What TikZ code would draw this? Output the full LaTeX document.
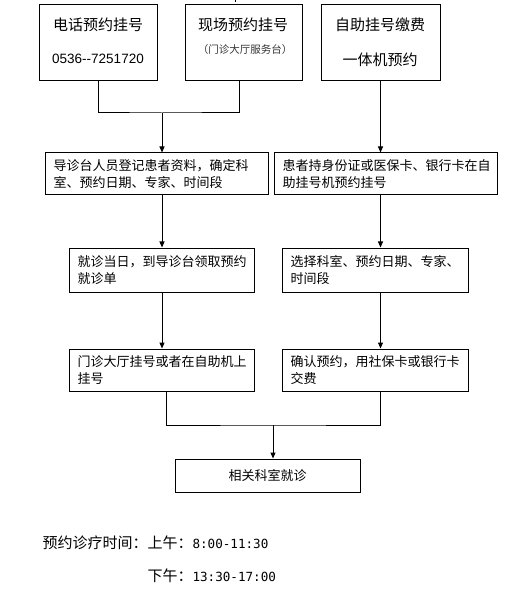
\documentclass[tikz,border=0pt]{standalone}
\usepackage{fontspec}
\setmainfont{Noto Sans CJK SC}
\newfontfamily\lat{Liberation Sans}
\newfontfamily\mono{DejaVu Sans Mono}
\usetikzlibrary{arrows.meta}
\begin{document}
\begin{tikzpicture}[x=1pt,y=-1pt,line width=1pt,
  topbox/.style={draw,inner sep=0pt,minimum height=76pt},
  tbox/.style={draw,inner xsep=8.5pt,inner ysep=0pt,align=left,font=\fontsize{13}{17}\selectfont},
  title/.style={inner sep=0pt,font=\fontsize{15}{18}\selectfont},
  arr/.style={-{Triangle[length=6pt,width=5pt]}}]
\useasboundingbox (0,0) rectangle (520,609);
% remnant tick at the top edge
\coordinate (k1) at (235,0);
\coordinate (k2) at (235,2.5);
\draw (k1) -- (k2);
% top boxes
\node[topbox,minimum width=118pt] (b1) at (98,43) {};
\node[topbox,minimum width=117pt] (b2) at (243.5,43) {};
\node[topbox,minimum width=119pt] (b3) at (380.5,43) {};
\node[title] (t1a) at (98,25) {电话预约挂号};
\node[inner sep=0pt,font=\lat\fontsize{13.5}{16}\selectfont] (t1b) at (98,59) {0536--7251720};
\node[title] (t2a) at (243,25) {现场预约挂号};
\node[inner sep=0pt,font=\fontsize{10.5}{12}\selectfont,text=black!80] (t2b) at (245,50) {（门诊大厅服务台）};
\node[title] (t3a) at (380,25) {自助挂号缴费};
\node[title] (t3b) at (380,60) {一体机预约};
% second row
\node[tbox,text width=206pt,minimum height=42pt] (b4) at (156.5,174) {导诊台人员登记患者资料，确定科\\室、预约日期、专家、时间段};
\node[tbox,text width=206pt,minimum height=42pt] (b5) at (385.5,174) {患者持身份证或医保卡、银行卡在自\\助挂号机预约挂号};
% third row
\node[tbox,text width=168pt,minimum height=44pt] (b6) at (161.5,270) {就诊当日，到导诊台领取预约\\就诊单};
\node[tbox,text width=169pt,minimum height=44pt] (b7) at (375,270) {选择科室、预约日期、专家、\\时间段};
% fourth row
\node[tbox,text width=168pt,minimum height=42pt] (b8) at (161.5,370) {门诊大厅挂号或者在自助机上\\挂号};
\node[tbox,text width=169pt,minimum height=42pt] (b9) at (375,370) {确认预约，用社保卡或银行卡\\交费};
% final
\node[draw,inner sep=0pt,minimum width=185pt,minimum height=33pt,font=\fontsize{13}{17}\selectfont] (b10) at (267.5,475.5) {\raisebox{2pt}{相关科室就诊}};
% connectors
\coordinate (j1) at (162,113);
\coordinate (j2) at (273,425);
\draw (b1.south) |- (j1) -| ([xshift=-4.5pt]b2.south);
\draw[arr] (j1) -- (j1 |- b4.north);
\draw[arr] (b3.south) -- (b3.south |- b5.north);
\draw[arr] (j1 |- b4.south) -- (j1 |- b6.north);
\draw[arr] (b3.south |- b5.south) -- (b3.south |- b7.north);
\draw[arr] (j1 |- b6.south) -- (j1 |- b8.north);
\draw[arr] (b3.south |- b7.south) -- (b3.south |- b9.north);
\draw ([xshift=4.5pt]b8.south) |- (j2) -| ([xshift=5pt]b9.south);
\draw[arr] (j2) -- (j2 |- b10.north);
% bottom text
\node[anchor=west,inner sep=0pt,font=\fontsize{15}{18}\selectfont] (h1) at (42,543) {预约诊疗时间：上午：{\mono\fontsize{12.6}{15}\selectfont 8:00-11:30}};
\node[anchor=west,inner sep=0pt,font=\fontsize{15}{18}\selectfont] (h2) at (147,576) {下午：{\mono\fontsize{12.6}{15}\selectfont 13:30-17:00}};
\end{tikzpicture}
\end{document}
